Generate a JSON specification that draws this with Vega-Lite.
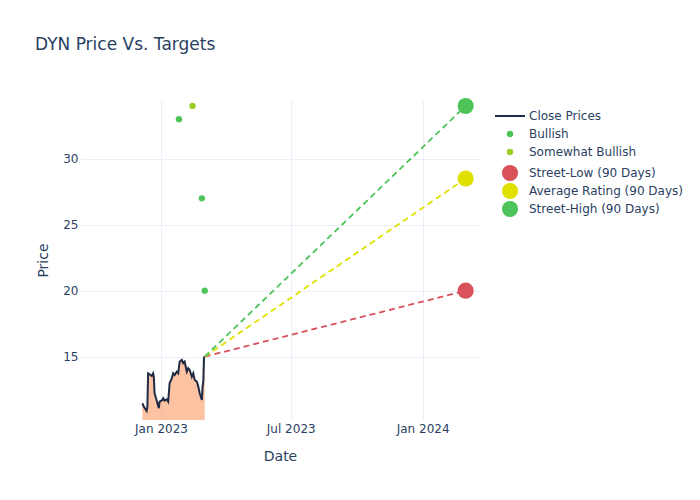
{
  "$schema": "https://vega.github.io/schema/vega-lite/v6.json",
  "width": 400,
  "height": 320,
  "autosize": "none",
  "padding": {"left": 80, "top": 100, "right": 220, "bottom": 80},
  "title": {
    "text": "DYN Price Vs. Targets",
    "anchor": "start",
    "dx": -1,
    "offset": 31,
    "baseline": "alphabetic",
    "font": "DejaVu Sans",
    "fontSize": 17,
    "fontWeight": "normal",
    "color": "#2a3f5f"
  },
  "datasets": {
    "prices": [
      {"date": "2022-12-06", "close": 11.47},
      {"date": "2022-12-08", "close": 11.21},
      {"date": "2022-12-12", "close": 10.89},
      {"date": "2022-12-13", "close": 11.21},
      {"date": "2022-12-14", "close": 13.74},
      {"date": "2022-12-16", "close": 13.67},
      {"date": "2022-12-19", "close": 13.54},
      {"date": "2022-12-21", "close": 13.74},
      {"date": "2022-12-22", "close": 13.48},
      {"date": "2022-12-23", "close": 12.23},
      {"date": "2022-12-27", "close": 11.47},
      {"date": "2022-12-29", "close": 11.09},
      {"date": "2022-12-30", "close": 11.59},
      {"date": "2023-01-03", "close": 11.72},
      {"date": "2023-01-04", "close": 11.85},
      {"date": "2023-01-06", "close": 11.67},
      {"date": "2023-01-09", "close": 11.77},
      {"date": "2023-01-11", "close": 11.59},
      {"date": "2023-01-13", "close": 12.98},
      {"date": "2023-01-16", "close": 13.36},
      {"date": "2023-01-18", "close": 13.74},
      {"date": "2023-01-20", "close": 13.61},
      {"date": "2023-01-23", "close": 13.86},
      {"date": "2023-01-25", "close": 13.74},
      {"date": "2023-01-27", "close": 14.62},
      {"date": "2023-01-30", "close": 14.75},
      {"date": "2023-02-01", "close": 14.5},
      {"date": "2023-02-03", "close": 14.62},
      {"date": "2023-02-06", "close": 13.86},
      {"date": "2023-02-08", "close": 14.12},
      {"date": "2023-02-10", "close": 13.99},
      {"date": "2023-02-13", "close": 13.48},
      {"date": "2023-02-15", "close": 13.74},
      {"date": "2023-02-17", "close": 13.23},
      {"date": "2023-02-20", "close": 13.11},
      {"date": "2023-02-22", "close": 12.73},
      {"date": "2023-02-24", "close": 12.23},
      {"date": "2023-02-27", "close": 11.72},
      {"date": "2023-02-28", "close": 12.73},
      {"date": "2023-03-01", "close": 13.11},
      {"date": "2023-03-02", "close": 14.95},
      {"date": "2023-03-03", "close": 15.0}
    ],
    "segments": [
      {"target": "Street-Low (90 Days)", "date": "2023-03-03", "price": 15.0},
      {"target": "Street-Low (90 Days)", "date": "2024-03-01", "price": 20},
      {"target": "Average Rating (90 Days)", "date": "2023-03-03", "price": 15.0},
      {"target": "Average Rating (90 Days)", "date": "2024-03-01", "price": 28.5},
      {"target": "Street-High (90 Days)", "date": "2023-03-03", "price": 15.0},
      {"target": "Street-High (90 Days)", "date": "2024-03-01", "price": 34}
    ],
    "points": [
      {"series": "Bullish", "date": "2023-01-26", "price": 33},
      {"series": "Somewhat Bullish", "date": "2023-02-14", "price": 34},
      {"series": "Bullish", "date": "2023-02-27", "price": 27},
      {"series": "Bullish", "date": "2023-03-03", "price": 20},
      {"series": "Street-Low (90 Days)", "date": "2024-03-01", "price": 20},
      {"series": "Average Rating (90 Days)", "date": "2024-03-01", "price": 28.5},
      {"series": "Street-High (90 Days)", "date": "2024-03-01", "price": 34}
    ]
  },
  "encoding": {
    "x": {
      "field": "date",
      "type": "temporal",
      "title": "Date",
      "scale": {"domain": ["2022-09-10", "2024-03-21"]},
      "axis": {
        "values": ["2023-01-01", "2023-07-01", "2024-01-01"],
        "format": "%b %Y",
        "labelPadding": 3,
        "titleY": 36,
        "titleBaseline": "middle"
      }
    }
  },
  "layer": [
    {
      "data": {"name": "prices"},
      "mark": {"type": "area", "color": "#fb8f55", "opacity": 0.55, "clip": true},
      "encoding": {
        "y": {
          "field": "close",
          "type": "quantitative",
          "title": "Price",
          "scale": {"domain": [10.2, 34.45], "nice": false, "zero": false},
          "axis": {
            "values": [15, 20, 25, 30],
            "labelPadding": 2,
            "titleX": -37,
            "titleY": 160,
            "titleBaseline": "middle"
          }
        }
      }
    },
    {
      "data": {"name": "prices"},
      "mark": {"type": "line", "color": "#1f2a44", "strokeWidth": 2},
      "encoding": {"y": {"field": "close", "type": "quantitative"}}
    },
    {
      "data": {"name": "segments"},
      "mark": {"type": "line", "strokeWidth": 1.8, "strokeDash": [6, 4]},
      "encoding": {
        "y": {"field": "price", "type": "quantitative"},
        "stroke": {
          "field": "target",
          "type": "nominal",
          "scale": {
            "domain": ["Street-Low (90 Days)", "Average Rating (90 Days)", "Street-High (90 Days)"],
            "range": ["#d9515a", "#e0e000", "#4dc35a"]
          },
          "legend": null
        }
      }
    },
    {
      "data": {"name": "points"},
      "mark": {"type": "point", "filled": true, "opacity": 1},
      "encoding": {
        "y": {"field": "price", "type": "quantitative"},
        "color": {
          "field": "series",
          "type": "nominal",
          "scale": {
            "domain": ["Close Prices", "Bullish", "Somewhat Bullish", "Street-Low (90 Days)", "Average Rating (90 Days)", "Street-High (90 Days)"],
            "range": ["#1f2a44", "#4dc35a", "#99cc22", "#d9515a", "#e0e000", "#4dc35a"]
          },
          "legend": {
            "title": null,
            "orient": "none",
            "legendX": 421,
            "legendY": 10,
            "gridAlign": "all",
            "rowPadding": 0,
            "labelOffset": 10
          }
        },
        "size": {
          "field": "series",
          "type": "nominal",
          "scale": {
            "type": "ordinal",
            "domain": ["Close Prices", "Bullish", "Somewhat Bullish", "Street-Low (90 Days)", "Average Rating (90 Days)", "Street-High (90 Days)"],
            "range": [100, 40, 40, 260, 260, 260]
          },
          "legend": {
            "title": null,
            "orient": "none",
            "legendX": 421,
            "legendY": 10,
            "gridAlign": "all",
            "rowPadding": 0,
            "labelOffset": 10
          }
        },
        "shape": {
          "field": "series",
          "type": "nominal",
          "scale": {
            "domain": ["Close Prices", "Bullish", "Somewhat Bullish", "Street-Low (90 Days)", "Average Rating (90 Days)", "Street-High (90 Days)"],
            "range": ["M-3,-0.2H3V0.2H-3Z", "circle", "circle", "circle", "circle", "circle"]
          },
          "legend": {
            "title": null,
            "orient": "none",
            "legendX": 421,
            "legendY": 10,
            "gridAlign": "all",
            "rowPadding": 0,
            "labelOffset": 10
          }
        }
      }
    }
  ],
  "config": {
    "view": {"stroke": null},
    "axis": {
      "labelFont": "DejaVu Sans",
      "labelFontSize": 12,
      "labelColor": "#2a3f5f",
      "titleFont": "DejaVu Sans",
      "titleFontSize": 14,
      "titleFontWeight": "normal",
      "titleColor": "#2a3f5f",
      "gridColor": "#ebf0f8",
      "gridWidth": 1,
      "domain": false,
      "ticks": false
    },
    "legend": {
      "labelFont": "DejaVu Sans",
      "labelFontSize": 12,
      "labelColor": "#2a3f5f"
    }
  }
}
